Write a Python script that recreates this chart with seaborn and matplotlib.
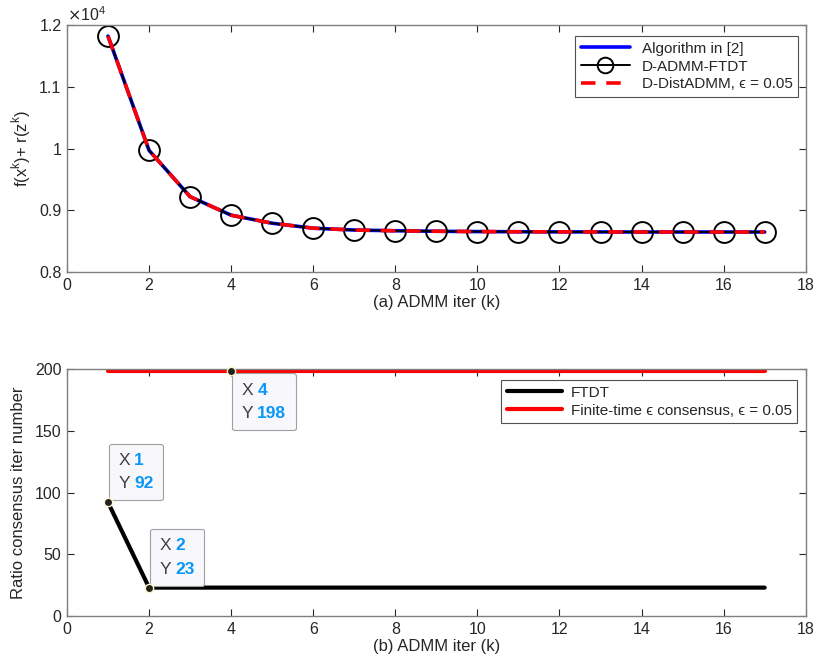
import numpy as np
import pandas as pd
import matplotlib
matplotlib.use("Agg")
import matplotlib.pyplot as plt
import seaborn as sns
from matplotlib.ticker import FuncFormatter
from matplotlib.offsetbox import TextArea, HPacker, VPacker, AnnotationBbox

# ---------------- datos ----------------
iters = list(range(1, 18))
objetivo = [11820, 9970, 9220, 8920, 8790, 8710, 8680, 8668, 8660, 8655,
            8652, 8650, 8649, 8648, 8648, 8648, 8648]
ftdt_iters = [92] + [23] * 16
eps_iters = [198] * 17
tips = [(4, 198), (1, 92), (2, 23)]

df_top = pd.DataFrame({"k": iters, "f": objetivo})
df_bot = pd.DataFrame({"k": iters, "ftdt": ftdt_iters, "eps": eps_iters})

sns.set_theme(style="ticks")
plt.rcParams["font.family"] = ["Liberation Sans", "DejaVu Sans"]
plt.rcParams["mathtext.fontset"] = "dejavusans"

GRIS = "#262626"
EJE = "#7f7f7f"

fig = plt.figure(figsize=(8.31, 6.72), dpi=100)
ax1 = fig.add_axes([0.0806, 0.5952, 0.889, 0.3676])
ax2 = fig.add_axes([0.0806, 0.0833, 0.889, 0.3676])


def estilo(ax):
    ax.tick_params(direction="in", top=True, right=True, length=5, width=0.8,
                   colors=GRIS, labelsize=11.5, labelcolor=GRIS, pad=4)
    for s in ax.spines.values():
        s.set_visible(True)
        s.set_color(EJE)
        s.set_linewidth(1.0)
    ax.set_xlim(0, 18)
    ax.set_xticks(range(0, 19, 2))


# ---------------- (a) ----------------
sns.lineplot(data=df_top, x="k", y="f", ax=ax1, color="#0000ff", lw=2.6,
             label="Algorithm in [2]")
sns.lineplot(data=df_top, x="k", y="f", ax=ax1, color="black", lw=1.4,
             marker="o", markersize=15, markerfacecolor="none",
             markeredgecolor="black", markeredgewidth=1.4, label="D-ADMM-FTDT")
sns.lineplot(data=df_top, x="k", y="f", ax=ax1, color="#ff0000", lw=2.6,
             label="D-DistADMM, \u03f5 = 0.05")
ax1.lines[-1].set_linestyle((0, (4, 3)))
estilo(ax1)
ax1.set_ylim(8000, 12000)
ax1.set_yticks([8000, 9000, 10000, 11000, 12000])
ax1.yaxis.set_major_formatter(FuncFormatter(lambda v, _: f"{v / 1e4:g}"))
ax1.set_xlabel("(a) ADMM iter (k)", fontsize=12, color=GRIS, labelpad=2)
ax1.set_ylabel(r"f(x$^\mathregular{k}$)+ r(z$^\mathregular{k}$)", fontsize=12,
               color=GRIS, labelpad=4)
ax1.text(0.0, 1.005, r"$\times$10$^\mathregular{4}$", transform=ax1.transAxes,
         fontsize=11.5, color=GRIS, ha="left", va="bottom")
leg1 = ax1.legend(loc="upper right", bbox_to_anchor=(1.0, 0.985), fontsize=11,
                  frameon=True, fancybox=False, edgecolor=GRIS, handlelength=3.2,
                  borderpad=0.35, labelspacing=0.25, handletextpad=0.8,
                  markerscale=0.75)
leg1.get_frame().set_linewidth(0.8)

# ---------------- (b) ----------------
sns.lineplot(data=df_bot, x="k", y="ftdt", ax=ax2, color="black", lw=3,
             label="FTDT")
sns.lineplot(data=df_bot, x="k", y="eps", ax=ax2, color="#ff0000", lw=3,
             label="Finite-time \u03f5 consensus, \u03f5 = 0.05")
estilo(ax2)
ax2.set_ylim(0, 200)
ax2.set_yticks(range(0, 201, 50))
ax2.set_xlabel("(b) ADMM iter (k)", fontsize=12, color=GRIS, labelpad=2)
ax2.set_ylabel("Ratio consensus iter number", fontsize=12, color=GRIS, labelpad=6)
leg2 = ax2.legend(loc="upper right", bbox_to_anchor=(0.999, 0.985), fontsize=11,
                  frameon=True, fancybox=False, edgecolor=GRIS, handlelength=3.6,
                  borderpad=0.35, labelspacing=0.25, handletextpad=0.6)
leg2.get_frame().set_linewidth(0.8)

# datatips estilo MATLAB
for (tx, ty) in tips:
    ax2.plot(tx, ty, "o", color="#222222", markersize=6, markeredgecolor="#fff6c8",
             markeredgewidth=1, zorder=6, clip_on=False)
    fila_x = HPacker(children=[TextArea("X", textprops=dict(color="#404040", size=12.5)),
                               TextArea(str(tx), textprops=dict(color="#0a97f5", size=12.5,
                                                                weight="bold"))],
                     pad=0, sep=3)
    fila_y = HPacker(children=[TextArea("Y", textprops=dict(color="#404040", size=12.5)),
                               TextArea(str(ty), textprops=dict(color="#0a97f5", size=12.5,
                                                                weight="bold"))],
                     pad=0, sep=3)
    caja = VPacker(children=[fila_x, fila_y], pad=0, sep=6, align="left")
    if ty > 150:
        off, alin = (7.5, -8), (0, 1)
    else:
        off, alin = (7.5, 8), (0, 0)
    ab = AnnotationBbox(caja, (tx, ty), xybox=off, xycoords="data",
                        boxcoords="offset points", box_alignment=alin, pad=0.6,
                        frameon=True, bboxprops=dict(boxstyle="round,pad=0.6,rounding_size=0.15",
                                                     facecolor="#f8f8fc", edgecolor="#a0a0a0",
                                                     linewidth=0.8), zorder=5)
    ax2.add_artist(ab)

fig.savefig("out.png", dpi=100)
